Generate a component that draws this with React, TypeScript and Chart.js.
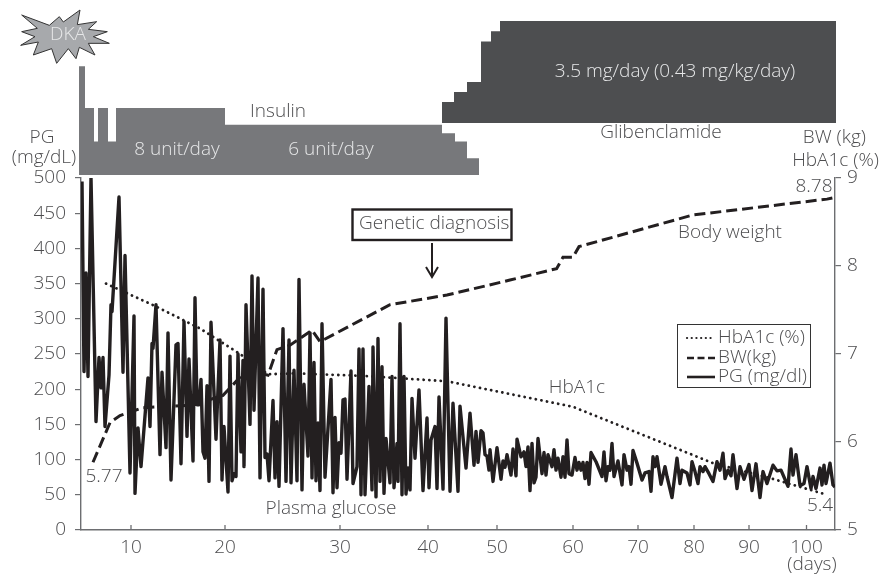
import React, { useEffect, useRef } from "react";
import { Chart, registerables } from "chart.js";

Chart.register(...registerables);

// One x unit = one glucose record position along the non-uniform day axis.
const dayTickRecords = [25, 72, 129.5, 173.5, 208, 246, 278.5, 306.5, 334, 362.75];
const dayTickLabels = ["10", "20", "30", "40", "50", "60", "70", "80", "90", "100"];

const pgRecords = [
  0.5, 1.5, 2.5, 3.5, 5, 7.5, 9, 10, 11, 12, 14, 15, 15.5, 19, 21, 22, 24.5, 26.5, 27, 28.5, 30, 33.5, 34.5, 35.5, 36, 37.5, 39.5, 40.5, 42.5, 43.5, 45, 47.5, 48.5, 50, 51.5, 53, 54, 56, 57, 58, 59, 60, 61, 62, 63, 64, 65, 67.5, 69.5, 70.5, 71.5, 73.5, 74.5, 75.5, 76.5, 77.5, 78.5, 80, 81, 81.5, 82.5, 84.5, 85.5, 86.5, 88.5, 89.5, 91, 92, 93, 94, 96, 97, 98, 99, 101, 102.5, 104, 105, 106.5, 108, 109, 110.5, 111.5, 113.5, 114.5, 115.5, 116.5, 117.5, 118.5, 119.5, 120.5, 122, 125, 126, 127, 128, 129, 130, 131, 132, 133, 135, 136, 138, 139, 140, 141, 142, 144, 145.5, 146, 147.5, 148.5, 149.5, 150.5, 151.5, 152.5, 154.5, 155.5, 156.5, 158, 158.5, 159.5, 160.5, 161.5, 162.5, 163.5, 164.5, 165.5, 167, 169, 171, 173, 174, 175, 177, 178, 179, 181, 182.5, 184.5, 186, 188.5, 189.5, 192.5, 194.5, 196.5, 197.5, 198.5, 200, 201, 202, 203, 204, 204.5, 206, 208, 210, 211, 212, 213, 215, 216, 217.5, 218, 220, 221.5, 222.5, 223.5, 224.5, 225.5, 226.5, 227.5, 228.5, 230.5, 231.5, 232.5, 233.5, 235.5, 236.5, 237.5, 238.5, 240, 241, 242, 243, 244, 245.5, 247, 248, 249, 250, 251, 252, 253, 254, 255, 257.5, 260.5, 261.5, 262.5, 263.5, 264.5, 265.5, 266.5, 268.5, 270.5, 271.5, 273, 274, 275, 276, 278, 280.5, 282, 284, 285, 286, 287, 288, 290, 292, 293, 295.5, 298, 299.5, 300.5, 303, 304.5, 305.5, 307, 308.5, 309.5, 311, 312, 314, 316, 318, 319.5, 321, 322, 323.5, 325, 326, 328, 329.5, 331.5, 334, 335.5, 337.5, 339.5, 341, 343, 346, 348, 350, 353.5, 355, 356, 357.5, 359.5, 361.5, 363, 365, 366, 367.5, 369.5, 370.5, 371.5, 372.5, 374.5, 376, 377,
];
const pgValues = [
  495, 225, 365, 218, 500, 154, 245, 202, 245, 147, 220, 320, 310, 473, 224, 390, 81, 304, 52, 145, 90, 216, 147, 265, 258, 320, 107, 224, 117, 280, 71, 263, 265, 94, 296, 133, 243, 98, 330, 178, 178, 214, 111, 102, 205, 69, 295, 129, 270, 71, 147, 54, 247, 70, 80, 76, 250, 111, 241, 90, 320, 150, 361, 170, 358, 74, 342, 103, 108, 70, 184, 74, 154, 62, 286, 69, 270, 67, 227, 70, 356, 57, 207, 105, 280, 74, 238, 70, 152, 56, 293, 75, 214, 53, 160, 60, 124, 109, 185, 186, 72, 226, 66, 90, 257, 50, 257, 50, 204, 57, 260, 47, 272, 69, 232, 52, 130, 67, 218, 60, 123, 69, 293, 50, 218, 51, 88, 57, 187, 102, 199, 56, 159, 60, 128, 147, 59, 189, 58, 301, 55, 180, 55, 176, 88, 166, 92, 140, 96, 141, 138, 107, 105, 85, 114, 69, 117, 72, 98, 89, 107, 78, 115, 77, 129, 104, 111, 90, 118, 56, 123, 67, 75, 130, 80, 110, 78, 107, 90, 114, 85, 102, 75, 104, 75, 128, 80, 78, 103, 85, 96, 85, 96, 73, 96, 65, 110, 97, 76, 111, 70, 90, 85, 123, 76, 98, 64, 107, 85, 90, 65, 113, 95, 71, 81, 83, 55, 104, 90, 104, 65, 90, 76, 46, 102, 66, 85, 81, 64, 97, 83, 66, 90, 83, 90, 80, 69, 97, 85, 109, 73, 85, 77, 107, 59, 90, 72, 93, 56, 94, 46, 83, 66, 92, 84, 85, 62, 115, 78, 107, 63, 66, 90, 59, 76, 59, 88, 64, 92, 66, 95, 64, 61,
];

const hba1cRecords = [12.5, 37.5, 59.5, 79.5, 93.5, 107, 142, 183, 246, 316, 344.5, 373];
const hba1cValues = [7.8, 7.54, 7.29, 7.0, 6.77, 6.78, 6.75, 6.69, 6.4, 5.76, 5.59, 5.4];

const bwRecords = [6, 14.5, 19.5, 31, 56, 71, 83, 93.5, 98, 104.5, 115.5, 119.5, 154.5, 183, 214.5, 237.8, 241, 246, 249, 306, 373, 377];
const bwValues = [5.77, 6.22, 6.3, 6.39, 6.42, 6.53, 6.82, 6.76, 7.05, 7.1, 7.27, 7.14, 7.56, 7.67, 7.84, 7.97, 8.1, 8.1, 8.22, 8.58, 8.76, 8.78];

const insulinRecords = [-1, 2, 6.5, 8.5, 13.5, 17.5, 72, 180.5, 187, 193, 199];
const insulinDoses = [13, 8, 4, 8, 4, 8, 6, 5, 4, 2, 2];

const glibRecords = [180.5, 186.5, 193, 200, 205, 209.5, 377.5];
const glibDoses = [0.72, 1.06, 1.41, 2.8, 3.15, 3.5, 3.5];

const INK = "#231f20";
const AXIS = "#6d6e71";
const TEXT = "#4d4d4f";
const FONT = '"Open Sans"';

const toPoints = (xs: number[], ys: number[]) => xs.map((x, i) => ({ x, y: ys[i] }));

const starTips = [
  [65, 45], [148, 76], [178, 50], [190, 66], [240, 30], [232, 74], [290, 65], [265, 88], [322, 95], [280, 110], [328, 130], [265, 130], [285, 165], [238, 142], [228, 176], [205, 146], [170, 190], [155, 146], [100, 165], [115, 126], [62, 136], [105, 110], [65, 95], [112, 85],
];

const notes: [string, number, number, CanvasTextAlign, string][] = [
  ["DKA", 68, 35, "center", "#e6e7e8"],
  ["Insulin", 278, 112, "center", TEXT],
  ["8 unit/day", 177, 150, "center", "#e6e7e8"],
  ["6 unit/day", 331, 150, "center", "#e6e7e8"],
  ["3.5 mg/day (0.43 mg/kg/day)", 675, 72, "center", "#e6e7e8"],
  ["Glibenclamide", 661, 133, "center", TEXT],
  ["PG", 42, 138, "center", TEXT],
  ["(mg/dL)", 44, 158, "center", TEXT],
  ["BW (kg)", 866, 138, "right", TEXT],
  ["HbA1c (%)", 879, 161, "right", TEXT],
  ["8.78", 814, 187, "center", TEXT],
  ["5.77", 104, 477, "center", TEXT],
  ["5.4", 820, 506, "center", TEXT],
  ["Body weight", 730, 233, "center", TEXT],
  ["HbA1c", 577, 388, "center", TEXT],
  ["Plasma glucose", 331, 509, "center", TEXT],
  ["(days)", 812, 565, "center", TEXT],
];

const overlay = {
  id: "overlay",
  afterDraw(chart: any) {
    const c = chart.ctx as CanvasRenderingContext2D;
    c.save();
    // inward x ticks
    const xs = chart.scales.x;
    c.strokeStyle = AXIS;
    c.lineWidth = 1.3;
    dayTickRecords.forEach((v) => {
      const px = xs.getPixelForValue(v);
      c.beginPath();
      c.moveTo(px, chart.chartArea.bottom);
      c.lineTo(px, chart.chartArea.bottom - 5);
      c.stroke();
    });
    // DKA burst
    c.beginPath();
    starTips.forEach(([x, y], i) => (i ? c.lineTo(x / 3, y / 3) : c.moveTo(x / 3, y / 3)));
    c.closePath();
    c.fillStyle = "#a7a9ac";
    c.strokeStyle = "#333333";
    c.lineWidth = 1;
    c.fill();
    c.stroke();
    // annotation texts
    c.font = `300 19px ${FONT}`;
    c.textBaseline = "middle";
    notes.forEach(([t, x, y, a, col]) => {
      c.textAlign = a;
      c.fillStyle = col;
      c.fillText(t, x, y);
    });
    // Genetic diagnosis call-out
    c.strokeStyle = INK;
    c.lineWidth = 2.4;
    c.strokeRect(352.5, 209.5, 159, 30.5);
    c.fillStyle = TEXT;
    c.textAlign = "left";
    c.fillText("Genetic diagnosis", 359, 224);
    c.beginPath();
    c.lineWidth = 2;
    c.moveTo(432, 243);
    c.lineTo(432, 276);
    c.stroke();
    c.beginPath();
    c.moveTo(426, 267);
    c.lineTo(432, 277);
    c.lineTo(438, 267);
    c.stroke();
    // legend
    c.strokeStyle = "#333333";
    c.lineWidth = 1;
    c.strokeRect(677.5, 324.5, 133, 63);
    const rows: [string, number, number[], number, CanvasLineCap][] = [
      ["HbA1c (%)", 338, [0.1, 4.6], 2.2, "round"],
      ["BW(kg)", 358, [7, 3.5], 2.4, "butt"],
      ["PG (mg/dl)", 377, [], 2.6, "butt"],
    ];
    rows.forEach(([t, y, dash, w, cap]) => {
      c.beginPath();
      c.setLineDash(dash);
      c.lineCap = cap;
      c.lineWidth = w;
      c.strokeStyle = INK;
      c.moveTo(687, y);
      c.lineTo(715, y);
      c.stroke();
      c.setLineDash([]);
      c.fillStyle = TEXT;
      c.textAlign = "left";
      c.fillText(t, 718, y);
    });
    c.restore();
  },
};

const canvasStyle: React.CSSProperties = { position: "absolute", left: 0, top: 0 };

export default function App() {
  const topRef = useRef<HTMLCanvasElement>(null);
  const mainRef = useRef<HTMLCanvasElement>(null);

  useEffect(() => {
    const top = new Chart(topRef.current!, {
      type: "line",
      data: {
        datasets: [
          {
            label: "Insulin",
            data: toPoints(insulinRecords, insulinDoses),
            yAxisID: "ins",
            stepped: "before",
            borderWidth: 0,
            pointRadius: 0,
            backgroundColor: "#77787b",
            fill: { value: 0 },
          },
          {
            label: "Glibenclamide",
            data: toPoints(glibRecords, glibDoses),
            yAxisID: "glib",
            stepped: "before",
            borderWidth: 0,
            pointRadius: 0,
            backgroundColor: "#4d4e50",
            fill: { value: 0 },
          },
        ],
      },
      options: {
        animation: false,
        responsive: false,
        layout: { autoPadding: false, padding: { left: 79, right: 48, top: 21, bottom: 5 } },
        plugins: { legend: { display: false }, tooltip: { enabled: false } },
        scales: {
          x: { type: "linear", min: -1, max: 378, display: false },
          ins: { min: 0, max: 18.42, display: false },
          glib: { min: -1.784, max: 3.5, display: false },
        },
      },
    } as any);

    const tickFont = { family: FONT, size: 19, weight: "300" };
    const main = new Chart(mainRef.current!, {
      type: "line",
      data: {
        datasets: [
          {
            label: "PG (mg/dl)",
            data: toPoints(pgRecords, pgValues),
            yAxisID: "y",
            borderColor: INK,
            borderWidth: 3.4,
            borderJoinStyle: "round",
            pointRadius: 0,
            tension: 0,
          },
          {
            label: "BW(kg)",
            data: toPoints(bwRecords, bwValues),
            yAxisID: "y2",
            borderColor: INK,
            borderWidth: 3,
            borderDash: [11, 5],
            pointRadius: 0,
            tension: 0,
          },
          {
            label: "HbA1c (%)",
            data: toPoints(hba1cRecords, hba1cValues),
            yAxisID: "y2",
            borderColor: INK,
            borderWidth: 2.8,
            borderCapStyle: "round",
            borderDash: [0.1, 5.6],
            pointRadius: 0,
            tension: 0,
          },
        ],
      },
      options: {
        animation: false,
        responsive: false,
        layout: { autoPadding: false, padding: { left: 0, right: 0, top: 178, bottom: 0 } },
        plugins: { legend: { display: false }, tooltip: { enabled: false } },
        scales: {
          x: {
            type: "linear",
            min: 0,
            max: 377,
            afterFit: (s: any) => { s.height = 45; },
            afterBuildTicks: (s: any) => { s.ticks = dayTickRecords.map((value) => ({ value })); },
            border: { color: AXIS, width: 1.4 },
            grid: { display: true, drawOnChartArea: false, drawTicks: false },
            ticks: {
              autoSkip: false,
              maxRotation: 0,
              padding: 6,
              color: TEXT,
              font: tickFont,
              callback: (v: number) => dayTickLabels[dayTickRecords.indexOf(v)],
            },
          },
          y: {
            position: "left",
            min: 0,
            max: 500,
            afterFit: (s: any) => { s.width = 81; },
            border: { color: AXIS, width: 1.4 },
            grid: { drawOnChartArea: false, color: AXIS, lineWidth: 1.2, tickLength: 6 },
            ticks: { stepSize: 50, padding: 9, color: TEXT, font: tickFont },
          },
          y2: {
            position: "right",
            min: 5,
            max: 9,
            afterFit: (s: any) => { s.width = 50; },
            border: { color: AXIS, width: 1.4 },
            grid: { drawOnChartArea: false, color: AXIS, lineWidth: 1.2, tickLength: 6 },
            ticks: { stepSize: 1, padding: 6, color: TEXT, font: tickFont },
          },
        },
      },
      plugins: [overlay],
    } as any);

    return () => {
      top.destroy();
      main.destroy();
    };
  }, []);

  return (
    <div>
      <canvas ref={topRef} width={885} height={180} style={canvasStyle} />
      <canvas ref={mainRef} width={885} height={575} style={canvasStyle} />
    </div>
  );
}
